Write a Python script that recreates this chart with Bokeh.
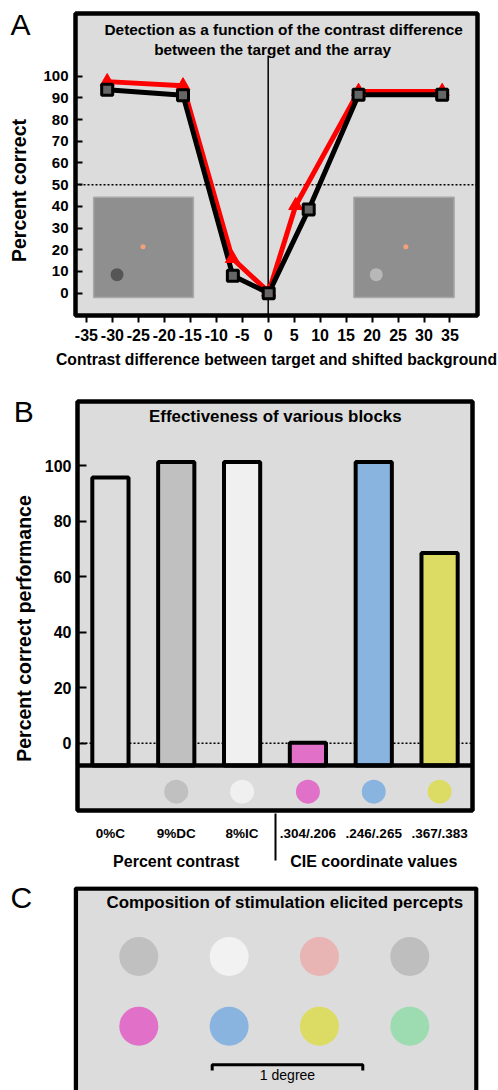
import math
from bokeh.plotting import figure
from bokeh.layouts import column, row
from bokeh.models import Range1d, FixedTicker, Label, Span, FactorRange
from bokeh.embed import file_html
from bokeh.resources import INLINE

FONT = "Liberation Sans"

# ---------------- Panel A data ----------------
x_ticks_a = [-35, -30, -25, -20, -15, -10, -5, 0, 5, 10, 15, 20, 25, 30, 35]
y_ticks_a = [0, 10, 20, 30, 40, 50, 60, 70, 80, 90, 100]
contrast_black = [-31.0, -16.4, -6.8, 0.1, 7.8, 17.4, 33.5]
correct_black = [93.8, 91.2, 8.0, 0.0, 38.6, 91.5, 91.5]
contrast_red = [-31.0, -16.4, -6.9, 0.1, 5.3, 17.4, 33.5]
correct_red = [97.5, 95.6, 16.0, 0.5, 40.4, 93.0, 93.0]
chance_level = 50

# ---------------- Panel B data ----------------
block_labels = ["0%C", "9%DC", "8%IC", ".304/.206", ".246/.265", ".367/.383"]
block_groups = ["Percent contrast"] * 3 + ["CIE coordinate values"] * 3
block_perf = [95.8, 101.4, 101.4, 0.2, 101.4, 68.6]
block_colors = ["#dcdcdc", "#c0c0c0", "#f0f0f0", "#e070c8", "#8ab4e0", "#dcdc64"]
y_ticks_b = [0, 20, 40, 60, 80, 100]

# ---------------- Panel C data ----------------
percept_row1 = ["#c0c0c0", "#f2f2f2", "#e8b4b4", "#bebebe"]
percept_row2 = ["#e070c8", "#8ab4e0", "#dcdc64", "#9cdcb0"]

LEFT_W = 38


def base_style(p):
    p.background_fill_color = "#dcdcdc"
    p.border_fill_color = "white"
    p.outline_line_color = "black"
    p.outline_line_width = 4.5
    p.grid.visible = False


def label(p, x, y, text, size, style="bold", align="center", angle=0.0):
    p.add_layout(Label(x=x, y=y, text=text, angle=angle, text_align=align,
                       text_baseline="middle", text_font=FONT,
                       text_font_size=size, text_font_style=style,
                       text_color="black"))


def side_strip(height, top, bottom):
    """Narrow text-only figure left of a panel; its frame is aligned with the
    panel's frame (rows top..bottom), units are pixels measured from the bottom."""
    s = figure(width=LEFT_W, height=height,
               x_range=Range1d(0, LEFT_W), y_range=Range1d(height - bottom, height - top),
               min_border_left=0, min_border_right=0, min_border_top=top,
               min_border_bottom=height - bottom, x_axis_location=None,
               y_axis_location=None, output_backend="svg", toolbar_location=None)
    s.background_fill_color = "white"
    s.border_fill_color = "white"
    s.outline_line_color = None
    s.grid.visible = False
    return s


def side_label(s, height, x, y_from_top, text, size, style="bold", align="center", angle=0.0):
    label(s, x, height - y_from_top, text, size, style=style, align=align, angle=angle)


def style_axis_text(ax, size):
    ax.major_label_text_font = FONT
    ax.major_label_text_font_size = size
    ax.major_label_text_font_style = "bold"
    ax.major_label_text_color = "black"


# ================= Panel A =================
HA = 378
pA = figure(width=498 - LEFT_W, height=HA,
            x_range=Range1d(-37.1, 40.3), y_range=Range1d(-10.3, 128.9),
            min_border_left=75 - LEFT_W, min_border_right=21, min_border_top=13,
            min_border_bottom=63, output_backend="svg", toolbar_location=None)
base_style(pA)

# stimulus insets
pA.quad(left=[-33.6, 16.5], right=[-14.4, 35.8], bottom=[-2.0, -2.0], top=[44.2, 44.2],
        fill_color="#8f8f8f", line_color="#a8a8a8", line_width=1.5)
pA.scatter(x=[-29.1, 20.8], y=[8.5, 8.5], size=13, marker="circle",
           fill_color=["#565656", "#b8b8b8"], line_color=None)
pA.scatter(x=[-24.1, 26.5], y=[21.4, 21.4], size=5, marker="circle",
           fill_color="#f4a07a", line_color=None)

pA.add_layout(Span(location=chance_level, dimension="width", line_color="black",
                   line_width=1.5, line_dash="2 2", level="underlay"))
pA.segment(x0=[0], y0=[-10.3], x1=[0], y1=[109.5], line_color="black", line_width=1.5)

pA.line(contrast_red, correct_red, line_color="#ff0000", line_width=5)
pA.line(contrast_black, correct_black, line_color="black", line_width=5)
pA.scatter(contrast_red, correct_red, marker="triangle", size=14,
           fill_color="#ff0000", line_color="#ff0000", line_width=1)
pA.scatter(contrast_black, correct_black, marker="square", size=11,
           fill_color="#666666", line_color="black", line_width=3)

xa = pA.xaxis[0]
xa.ticker = FixedTicker(ticks=x_ticks_a)
xa.major_label_overrides = {t: str(t) for t in x_ticks_a}
xa.axis_line_color = None
xa.major_tick_out = 7
xa.major_tick_in = 0
xa.major_tick_line_width = 2
xa.minor_tick_line_color = None
style_axis_text(xa, "16px")
xa.major_label_standoff = 6
xa.axis_label = "Contrast difference between target and shifted background"
xa.axis_label_text_font = FONT
xa.axis_label_text_font_size = "15.7px"
xa.axis_label_text_font_style = "bold"
xa.axis_label_text_color = "black"
xa.axis_label_standoff = 7

ya = pA.yaxis[0]
ya.ticker = FixedTicker(ticks=y_ticks_a)
ya.axis_line_color = None
ya.major_tick_out = 0
ya.major_tick_in = 7
ya.major_tick_line_width = 2
ya.minor_tick_line_color = None
style_axis_text(ya, "15px")
ya.major_label_standoff = 7

label(pA, 2.97, 121.3, "Detection as a function of the contrast difference", "15.4px")
label(pA, 0.85, 112.3, "between the target and the array", "15.4px")

sA = side_strip(HA, 13, 315)
side_label(sA, HA, 10, 24, "A", "30px", style="normal", align="left")
side_label(sA, HA, 18.3, 190, "Percent correct", "19.5px", angle=math.pi / 2)

# ================= Panel B =================
HB = 502
factors = list(zip(block_groups, block_labels))
pB = figure(width=498 - LEFT_W, height=HB,
            x_range=FactorRange(factors=factors, factor_padding=0, group_padding=0,
                                range_padding=0),
            y_range=Range1d(-24.2, 123.2),
            min_border_left=77 - LEFT_W, min_border_right=26, min_border_top=23,
            min_border_bottom=70, output_backend="svg", toolbar_location=None)
base_style(pB)

pB.add_layout(Span(location=0, dimension="width", line_color="black",
                   line_width=1.5, line_dash="2 2", level="underlay"))
pB.vbar(x=factors, top=block_perf, bottom=-8, width=0.55,
        fill_color=block_colors, line_color="black", line_width=4)
pB.add_layout(Span(location=-8, dimension="width", line_color="black", line_width=4.5))
pB.scatter(x=factors, y=[-17.4] * len(factors), marker="circle", size=24,
           fill_color=block_colors, line_color=None)

xb = pB.xaxis[0]
xb.axis_line_color = None
xb.major_tick_line_color = None
xb.minor_tick_line_color = None
style_axis_text(xb, "13.5px")
xb.major_label_standoff = 9
xb.group_text_font = FONT
xb.group_text_font_size = "16px"
xb.group_text_font_style = "bold"
xb.group_text_color = "black"
xb.separator_line_color = "black"
xb.separator_line_width = 2

yb = pB.yaxis[0]
yb.ticker = FixedTicker(ticks=y_ticks_b)
yb.axis_line_color = None
yb.major_tick_out = 0
yb.major_tick_in = 9
yb.major_tick_line_width = 2
yb.minor_tick_line_color = None
style_axis_text(yb, "16px")
yb.major_label_standoff = 6

label(pB, 3.005, 117.8, "Effectiveness of various blocks", "16.9px")

sB = side_strip(HB, 23, 432)
side_label(sB, HB, 13.3, 33, "B", "30px", style="normal", align="left")
side_label(sB, HB, 23, 250, "Percent correct performance", "19.5px", angle=math.pi / 2)

# ================= Panel C =================
HC = 210
pC = figure(width=498 - LEFT_W, height=HC,
            x_range=Range1d(-0.7229, 3.7607), y_range=Range1d(-1.9225, 1.0043),
            min_border_left=73 - LEFT_W, min_border_right=20, min_border_top=6,
            min_border_bottom=0, x_axis_location=None, y_axis_location=None,
            output_backend="svg", toolbar_location=None)
pC.background_fill_color = "white"
pC.border_fill_color = "white"
pC.outline_line_color = None
pC.grid.visible = False

pC.quad(left=[-0.6974], right=[3.738], top=[0.9756], bottom=[-3.0],
        fill_color="#dcdcdc", line_color="black", line_width=4.5)
cols = list(range(len(percept_row1)))
pC.scatter(x=cols + cols, y=[0] * len(cols) + [-1] * len(cols), marker="circle", size=39,
           fill_color=percept_row1 + percept_row2, line_color=None)
pC.line(x=[0.8126, 0.8126, 2.4798, 2.4798], y=[-1.636, -1.554, -1.554, -1.636],
        line_color="black", line_width=3)
label(pC, 1.646, -1.707, "1 degree", "14px", style="normal")
label(pC, 1.6163, 0.7676, "Composition of stimulation elicited percepts", "16.9px")

sC = side_strip(HC, 6, 210)
side_label(sC, HC, 10, 16.7, "C", "30px", style="normal", align="left")

layout = column(row(sA, pA, spacing=0), row(sB, pB, spacing=0),
                row(sC, pC, spacing=0), spacing=0)
open("out.html", "w").write(file_html(layout, INLINE))
